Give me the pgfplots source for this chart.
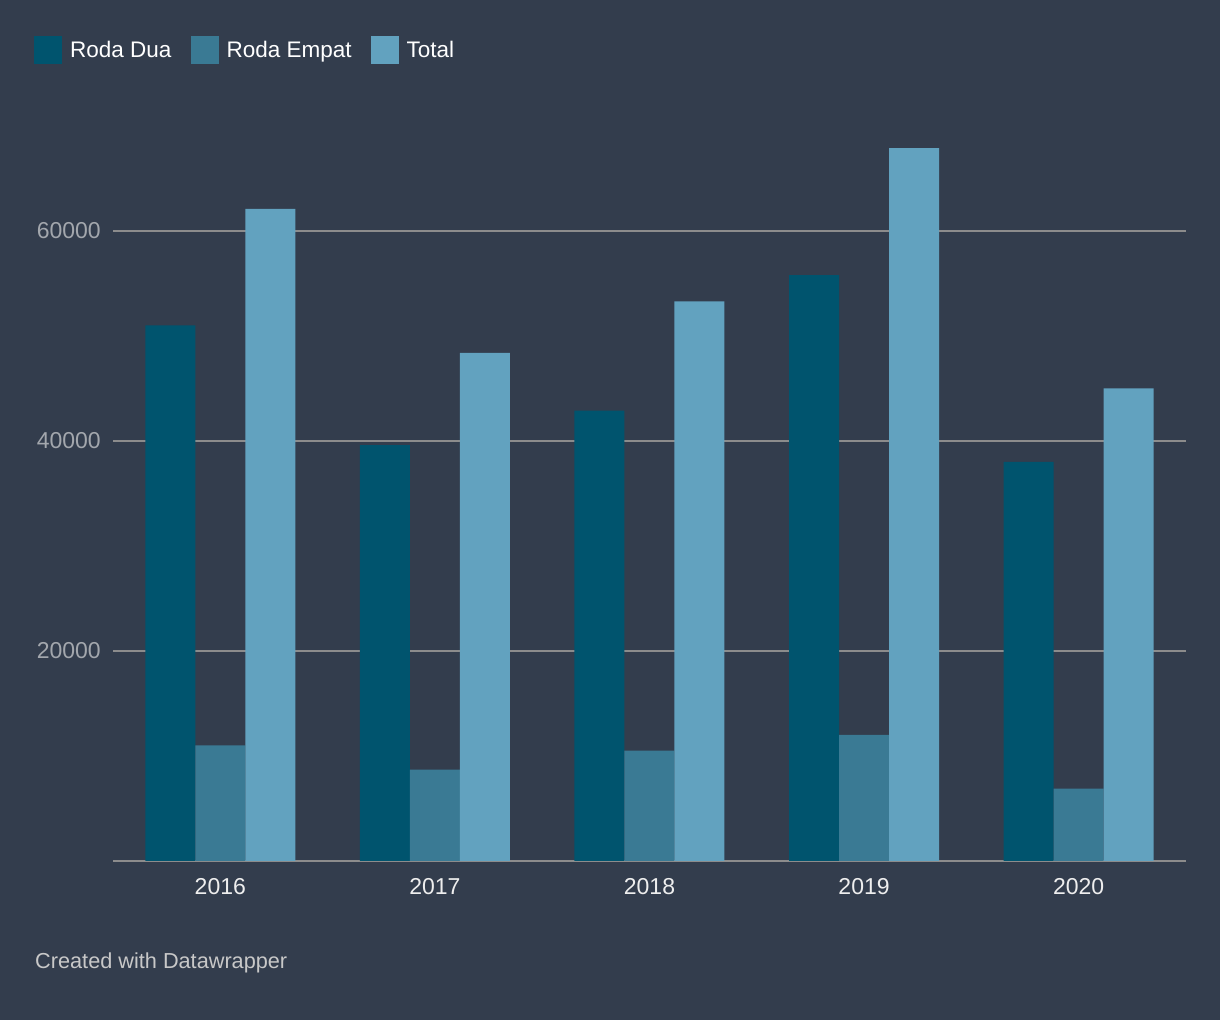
\documentclass[border=0pt]{standalone}
\usepackage{fontspec}
\setmainfont{Liberation Sans}
\usepackage{pgfplots}
\pgfplotsset{compat=1.18}

\definecolor{bg}{HTML}{333D4D}
\definecolor{dua}{HTML}{00546E}
\definecolor{empat}{HTML}{3A7A94}
\definecolor{total}{HTML}{62A2BF}
\definecolor{gridc}{HTML}{8C8C8C}
\definecolor{ticky}{HTML}{A3A7AD}
\definecolor{tickx}{HTML}{EEEEEE}
\definecolor{foot}{HTML}{C8C8C8}

\begin{document}
\begin{tikzpicture}
\fill[bg] (0,0) rectangle (1220bp,1020bp);

\begin{axis}[
    at={(113bp,159bp)}, anchor=south west,
    scale only axis,
    width=1073bp, height=735bp,
    xmin=-0.5, xmax=4.5,
    ymin=0, ymax=70000,
    ybar=0pt,
    bar width=50bp,
    axis line style={draw=none},
    major tick length=0pt,
    xtick={0,1,2,3,4},
    xticklabels={2016,2017,2018,2019,2020},
    ytick={20000,40000,60000},
    scaled y ticks=false,
    ymajorgrids,
    grid style={gridc, line width=1.5bp},
    extra y ticks={0},
    extra y tick labels={},
    extra y tick style={grid=major},
    /pgf/number format/1000 sep={},
    /pgf/number format/assume math mode=true,
    yticklabel style={font=\fontsize{23bp}{27bp}\selectfont, text=ticky, anchor=east, inner sep=0pt, xshift=-12bp},
    xticklabel style={font=\fontsize{23bp}{27bp}\selectfont, text=tickx, anchor=north, inner sep=0pt, yshift=-17bp},
    legend columns=3,
    legend style={
        at={(-0.0736,1.1035)}, anchor=west,
        draw=none, fill=none, inner sep=0pt,
        font=\fontsize{22.5bp}{27bp}\selectfont, text=white,
        /tikz/every even column/.append style={column sep=17bp},
        cells={anchor=west},
    },
    legend image code/.code={\fill[#1] (0bp,-14bp) rectangle (28bp,14bp);},
    legend cell align=left,
]
\addplot[fill=dua, draw=none] coordinates {(0,51000) (1,39600) (2,42900) (3,55800) (4,38000)};
\addplot[fill=empat, draw=none] coordinates {(0,11000) (1,8700) (2,10500) (3,12000) (4,6900)};
\addplot[fill=total, draw=none] coordinates {(0,62100) (1,48400) (2,53300) (3,67900) (4,45000)};
\legend{\hspace{6bp}Roda Dua, \hspace{6bp}Roda Empat, \hspace{6bp}Total}
\end{axis}

\node[anchor=west, inner sep=0pt, text=foot, font=\fontsize{21.7bp}{25bp}\selectfont] at (35bp,57bp) {Created with Datawrapper};

\pgfresetboundingbox
\path (0,0) rectangle (1220bp,1020bp);
\end{tikzpicture}
\end{document}
